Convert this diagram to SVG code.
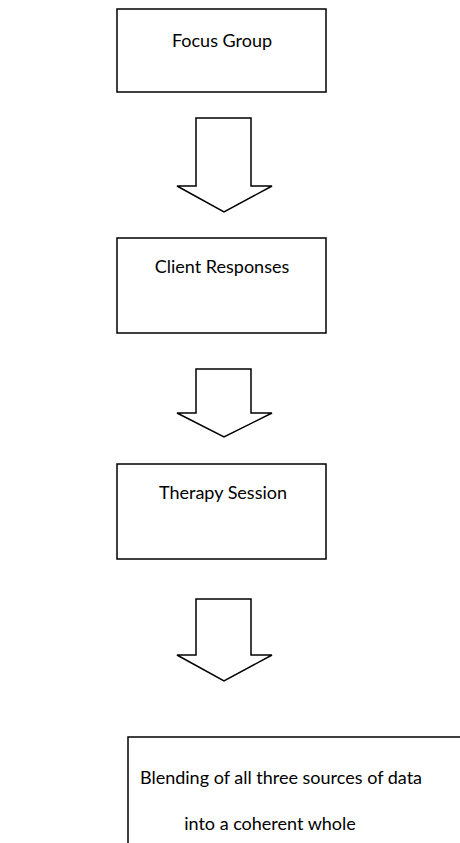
<svg xmlns="http://www.w3.org/2000/svg" width="460" height="843" viewBox="0 0 460 843">
<style>
.box{fill:#fff;stroke:#000;stroke-width:1.5}
.arr{fill:#fff;stroke:#000;stroke-width:1.5;stroke-linejoin:miter}
.t{font-family:Lato,"Open Sans","Liberation Sans",sans-serif;font-size:18px;fill:#000;text-anchor:middle}
</style>
<rect width="460" height="843" fill="#fff"/>
<g id="focus-group">
<rect class="box" x="117" y="9" width="209" height="83"/>
<text class="t" x="222" y="47">Focus Group</text>
</g>
<g id="client-responses">
<rect class="box" x="117" y="238" width="209" height="95"/>
<text class="t" x="222" y="273">Client Responses</text>
</g>
<g id="therapy-session">
<rect class="box" x="117" y="464" width="209" height="95"/>
<text class="t" x="223" y="499">Therapy Session</text>
</g>
<g id="blending">
<path class="box" d="M128,850 V737 H470"/>
<text class="t" x="281" y="784">Blending of all three sources of data</text>
<text class="t" x="270" y="830">into a coherent whole</text>
</g>
<g id="connectors">
<path class="arr" d="M196,118 H251 V186 H272 L224,212 L177,186 H196 Z"/>
<path class="arr" d="M196,369 H251 V413 H272 L224,437 L177,413 H196 Z"/>
<path class="arr" d="M196,599 H251 V655 H272 L224,681 L177,655 H196 Z"/>
</g>
</svg>
